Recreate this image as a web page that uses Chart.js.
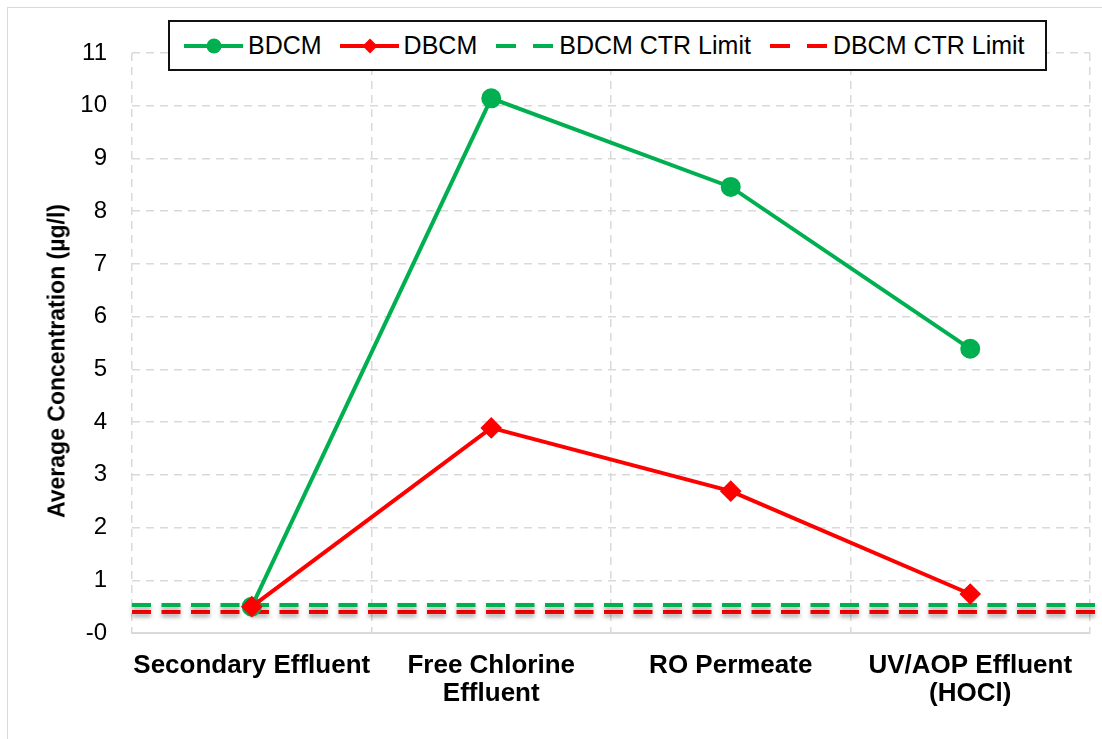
<!DOCTYPE html>
<html lang="en">
  <head>
    <meta charset="UTF-8" />
    <title>BDCM / DBCM Average Concentration</title>
    <script src="https://cdn.jsdelivr.net/npm/chart.js@4/dist/chart.umd.min.js"></script>
    <style>
      body {
        margin: 0;
        background: #ffffff;
        font-family: "Liberation Sans", Arial, sans-serif;
      }

      #wrap {
        position: relative;
        width: 1102px;
        height: 739px;
        overflow: hidden;
      }

      #frame {
        position: absolute;
        left: 7px;
        top: 7px;
        width: 1200px;
        height: 900px;
        border: 1px solid #d9d9d9;
      }

      canvas {
        position: absolute;
        left: 0;
        top: 0;
      }

      #yTitle {
        position: absolute;
        left: 57px;
        top: 361px;
        transform: translate(-50%, -50%) rotate(-90deg);
        white-space: nowrap;
        font-weight: bold;
        font-size: 23px;
        color: #000;
      }

      #legend {
        position: absolute;
        left: 168px;
        top: 20px;
        width: 875px;
        height: 47px;
        border: 2px solid #111;
        background: #fff;
        display: flex;
        align-items: center;
        padding-left: 14px;
        box-sizing: content-box;
        width: 861px;
      }

      .item {
        display: flex;
        align-items: center;
        margin-right: 18px;
        font-size: 25px;
        color: #000;
      }

      .item svg {
        margin-right: 5px;
      }
    </style>
  </head>
  <body>
    <div id="wrap">
      <div id="frame"></div>
      <canvas id="chart" width="1102" height="739"></canvas>
      <div id="yTitle">Average Concentration (µg/l)</div>
      <div id="legend">
        <div class="item">
          <svg width="59" height="20">
            <line x1="0" y1="10" x2="59" y2="10" stroke="#00B050" stroke-width="4" />
            <circle cx="30" cy="10" r="7.5" fill="#00B050" />
          </svg>
          <span>BDCM</span>
        </div>
        <div class="item">
          <svg width="59" height="20">
            <line x1="0" y1="10" x2="59" y2="10" stroke="#FF0000" stroke-width="4" />
            <polygon points="30,2.5 37.5,10 30,17.5 22.5,10" fill="#FF0000" />
          </svg>
          <span>DBCM</span>
        </div>
        <div class="item">
          <svg width="59" height="20">
            <line x1="1" y1="10" x2="21" y2="10" stroke="#00B050" stroke-width="4" />
            <line x1="38" y1="10" x2="58" y2="10" stroke="#00B050" stroke-width="4" />
          </svg>
          <span>BDCM CTR Limit</span>
        </div>
        <div class="item">
          <svg width="59" height="20">
            <line x1="1" y1="10" x2="21" y2="10" stroke="#FF0000" stroke-width="4" />
            <line x1="38" y1="10" x2="58" y2="10" stroke="#FF0000" stroke-width="4" />
          </svg>
          <span>DBCM CTR Limit</span>
        </div>
      </div>
    </div>

    <script>
      // data
      const categories = [
        "Secondary Effluent",
        ["Free Chlorine", "Effluent"],
        "RO Permeate",
        ["UV/AOP Effluent", "(HOCl)"],
      ];
      const bdcm = [0.5, 10.14, 8.46, 5.39];
      const dbcm = [0.5, 3.89, 2.69, 0.74];
      const bdcmLimit = 0.53;
      const dbcmLimit = 0.4;
      // limit lines run across the full width (in category widths)
      const limitSpan = [0, 4.03];
      const yTicks = [0, 1, 2, 3, 4, 5, 6, 7, 8, 9, 10, 11];

      const GREEN = "#00B050";
      const RED = "#FF0000";
      const GRID = "#d9d9d9";

      const limitPoints = (v) => limitSpan.map((x) => ({ x: x, y: v }));

      // soft grey shadow under the dashed limit lines
      const shadowPlugin = {
        id: "limitShadow",
        beforeDatasetDraw(chart, args) {
          if (!args.meta._dataset.shadow) return;
          const ctx = chart.ctx;
          ctx.save();
          ctx.shadowColor = "rgba(0, 0, 0, 0.35)";
          ctx.shadowBlur = 4;
          ctx.shadowOffsetY = 3;
        },
        afterDatasetDraw(chart, args) {
          if (!args.meta._dataset.shadow) return;
          chart.ctx.restore();
        },
      };

      const ctx = document.getElementById("chart").getContext("2d");
      new Chart(ctx, {
        type: "line",
        data: {
          labels: categories,
          datasets: [
            {
              label: "BDCM",
              data: bdcm,
              borderColor: GREEN,
              backgroundColor: GREEN,
              borderWidth: 4,
              pointStyle: "circle",
              pointRadius: 8,
              order: 2,
            },
            {
              label: "DBCM",
              data: dbcm,
              borderColor: RED,
              backgroundColor: RED,
              borderWidth: 4,
              pointStyle: "rectRot",
              pointRadius: 8,
              order: 1,
            },
            {
              label: "BDCM CTR Limit",
              data: limitPoints(bdcmLimit),
              xAxisID: "x2",
              borderColor: GREEN,
              borderWidth: 4,
              borderDash: [19, 10.5],
              pointRadius: 0,
              clip: false,
              shadow: true,
              order: 3,
            },
            {
              label: "DBCM CTR Limit",
              data: limitPoints(dbcmLimit),
              xAxisID: "x2",
              borderColor: RED,
              borderWidth: 4,
              borderDash: [19, 10.5],
              pointRadius: 0,
              clip: false,
              shadow: true,
              order: 4,
            },
          ],
        },
        options: {
          responsive: false,
          animation: false,
          layout: {
            padding: { top: 53, right: 11, left: 0, bottom: 0 },
          },
          plugins: {
            legend: { display: false },
            tooltip: { enabled: false },
          },
          scales: {
            x: {
              type: "category",
              offset: true,
              grid: {
                offset: true,
                color: GRID,
                lineWidth: 1.5,
                drawTicks: false,
              },
              border: { display: true, color: GRID, width: 2, dash: [8, 6] },
              ticks: {
                color: "#000",
                padding: 19,
                maxRotation: 0,
                autoSkip: false,
                font: {
                  family: "'Liberation Sans', Arial, sans-serif",
                  size: 26,
                  weight: "bold",
                  lineHeight: "28px",
                },
              },
              afterFit(scale) {
                scale.height = 106;
              },
            },
            x2: {
              type: "linear",
              display: false,
              min: 0,
              max: 4,
            },
            y: {
              min: 0,
              max: 11,
              afterBuildTicks(scale) {
                scale.ticks = yTicks.map((v) => ({ value: v }));
              },
              grid: {
                color: GRID,
                lineWidth: 1.5,
                drawTicks: false,
              },
              border: { display: false, dash: [8, 6] },
              ticks: {
                color: "#000",
                padding: 25,
                font: {
                  family: "'Liberation Sans', Arial, sans-serif",
                  size: 24,
                },
                callback: (v) => (v === 0 ? "-0" : v),
              },
              afterFit(scale) {
                scale.width = 132;
              },
            },
          },
        },
        plugins: [shadowPlugin],
      });
    </script>
  </body>
</html>
